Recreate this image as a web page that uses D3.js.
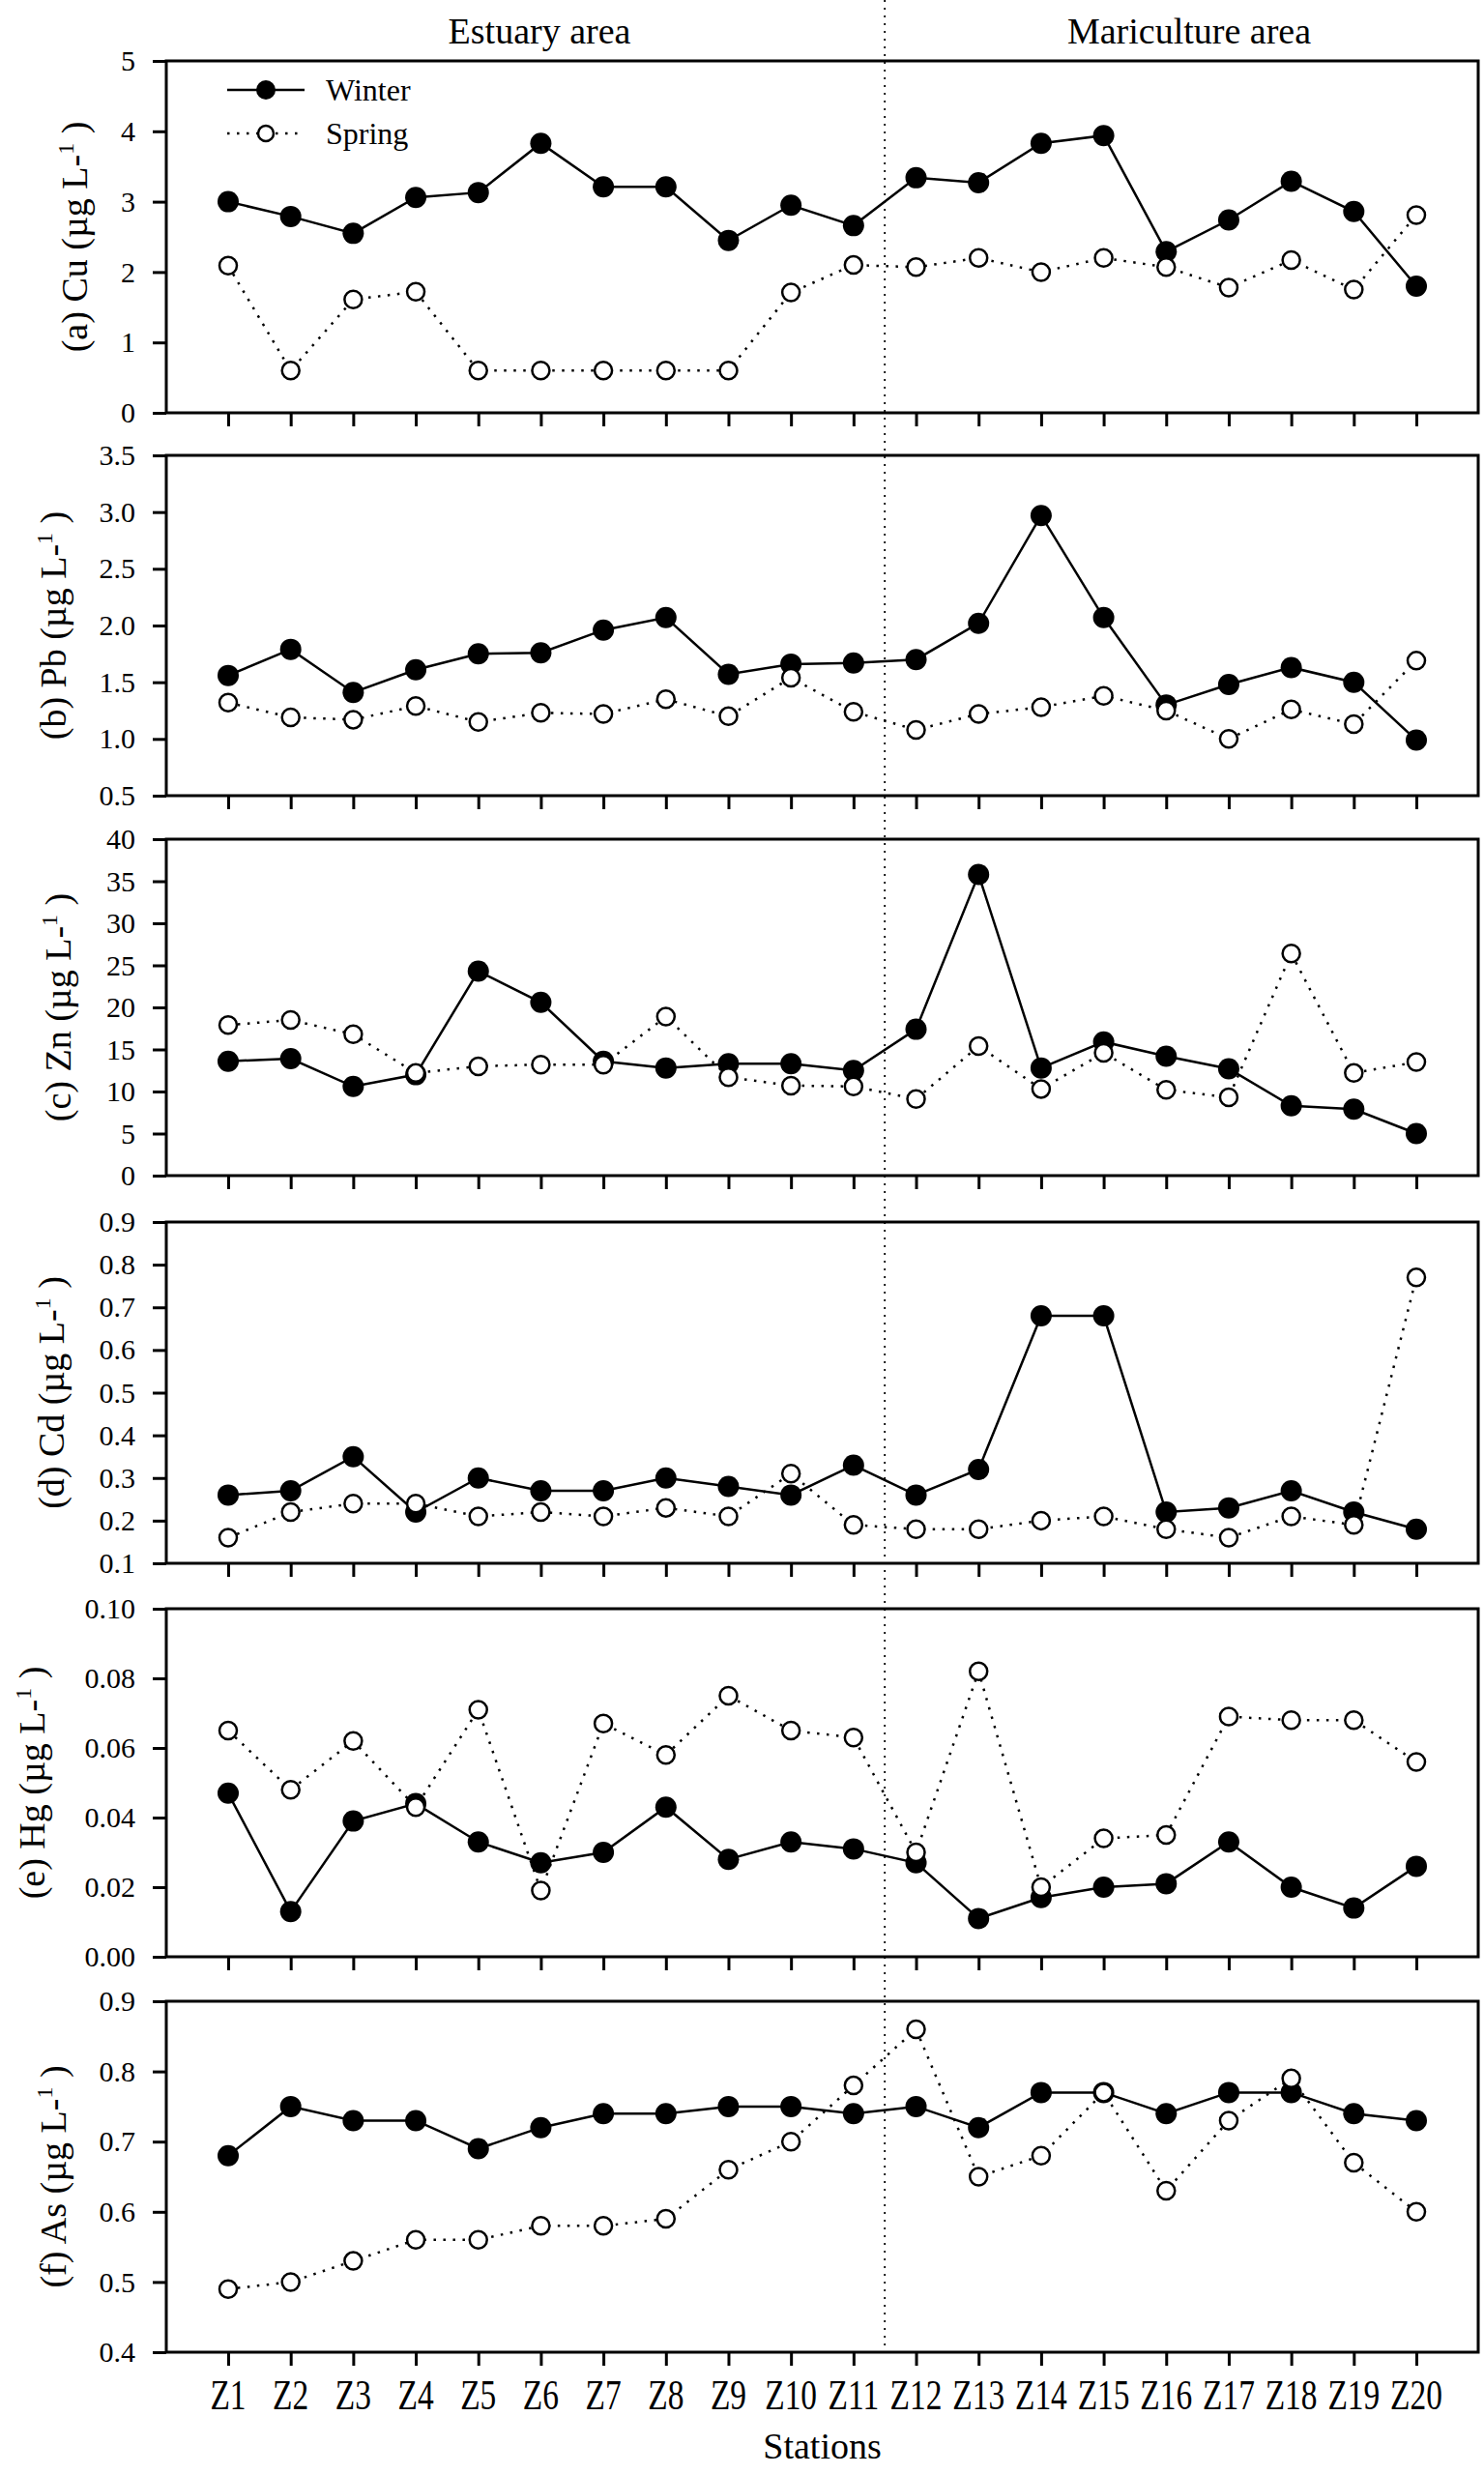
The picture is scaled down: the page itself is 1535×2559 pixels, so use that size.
<!DOCTYPE html>
<html>
<head>
<meta charset="utf-8">
<script src="https://cdn.jsdelivr.net/npm/d3@7"></script>
<style>
  body { margin: 0; background: #fff; }
  svg { display: block; }
  text { font-family: "Liberation Serif", "Times New Roman", serif; fill: #000; }
</style>
</head>
<body>
<div id="chart"></div>
<script>
(function() {
  'use strict';

  // ---- data ----
  var stations = ["Z1","Z2","Z3","Z4","Z5","Z6","Z7","Z8","Z9","Z10",
                  "Z11","Z12","Z13","Z14","Z15","Z16","Z17","Z18","Z19","Z20"];

  var cuWinter = [3.00, 2.79, 2.55, 3.06, 3.13, 3.83, 3.21, 3.21, 2.45, 2.95, 2.66, 3.34, 3.27, 3.83, 3.94, 2.29, 2.74, 3.29, 2.86, 1.80];
  var cuSpring = [2.09, 0.60, 1.61, 1.72, 0.60, 0.60, 0.60, 0.60, 0.60, 1.71, 2.10, 2.07, 2.20, 2.00, 2.20, 2.07, 1.78, 2.17, 1.75, 2.81];

  var pbWinter = [1.56, 1.79, 1.41, 1.61, 1.75, 1.76, 1.96, 2.07, 1.57, 1.66, 1.67, 1.70, 2.02, 2.97, 2.07, 1.30, 1.48, 1.63, 1.50, 0.99];
  var pbSpring = [1.32, 1.19, 1.17, 1.29, 1.15, 1.23, 1.22, 1.35, 1.20, 1.54, 1.24, 1.08, 1.22, 1.28, 1.38, 1.25, 1.00, 1.26, 1.13, 1.69];

  var znWinter = [13.6, 13.9, 10.6, 12.0, 24.3, 20.6, 13.6, 12.8, 13.3, 13.3, 12.5, 17.4, 35.8, 12.8, 15.9, 14.2, 12.7, 8.3, 7.9, 5.0];
  var znSpring = [17.9, 18.5, 16.8, 12.2, 13.0, 13.2, 13.2, 18.9, 11.7, 10.7, 10.6, 9.1, 15.4, 10.3, 14.6, 10.2, 9.3, 26.4, 12.2, 13.5];

  var cdWinter = [0.26, 0.27, 0.35, 0.22, 0.30, 0.27, 0.27, 0.30, 0.28, 0.26, 0.33, 0.26, 0.32, 0.68, 0.68, 0.22, 0.23, 0.27, 0.22, 0.18];
  var cdSpring = [0.16, 0.22, 0.24, 0.24, 0.21, 0.22, 0.21, 0.23, 0.21, 0.31, 0.19, 0.18, 0.18, 0.20, 0.21, 0.18, 0.16, 0.21, 0.19, 0.77];

  var hgWinter = [0.047, 0.013, 0.039, 0.044, 0.033, 0.027, 0.030, 0.043, 0.028, 0.033, 0.031, 0.027, 0.011, 0.017, 0.020, 0.021, 0.033, 0.020, 0.014, 0.026];
  var hgSpring = [0.065, 0.048, 0.062, 0.043, 0.071, 0.019, 0.067, 0.058, 0.075, 0.065, 0.063, 0.030, 0.082, 0.020, 0.034, 0.035, 0.069, 0.068, 0.068, 0.056];

  var asWinter = [0.68, 0.75, 0.73, 0.73, 0.69, 0.72, 0.74, 0.74, 0.75, 0.75, 0.74, 0.75, 0.72, 0.77, 0.77, 0.74, 0.77, 0.77, 0.74, 0.73];
  var asSpring = [0.49, 0.50, 0.53, 0.56, 0.56, 0.58, 0.58, 0.59, 0.66, 0.70, 0.78, 0.86, 0.65, 0.68, 0.77, 0.63, 0.73, 0.79, 0.67, 0.60];

  var panelLabels = ["(a) Cu", "(b) Pb", "(c) Zn", "(d) Cd", "(e) Hg", "(f) As"];
  var yDomains = [[0, 5], [0.5, 3.5], [0, 40], [0.1, 0.9], [0, 0.10], [0.4, 0.9]];
  var yTicks = [
    [0, 1, 2, 3, 4, 5],
    [0.5, 1.0, 1.5, 2.0, 2.5, 3.0, 3.5],
    [0, 5, 10, 15, 20, 25, 30, 35, 40],
    [0.1, 0.2, 0.3, 0.4, 0.5, 0.6, 0.7, 0.8, 0.9],
    [0, 0.02, 0.04, 0.06, 0.08, 0.10],
    [0.4, 0.5, 0.6, 0.7, 0.8, 0.9]
  ];
  var yFormats = ["d", ".1f", "d", ".1f", ".2f", ".1f"];
  var winterSeries = [cuWinter, pbWinter, znWinter, cdWinter, hgWinter, asWinter];
  var springSeries = [cuSpring, pbSpring, znSpring, cdSpring, hgSpring, asSpring];
  var areaNames = ["Estuary area", "Mariculture area"];

  // ---- layout ----
  var serif = '"Liberation Serif", "Times New Roman", serif';
  var width = 1535, height = 2559;
  var plotLeft = 172, plotRight = 1529;
  var panelTops = [63, 471, 868, 1264, 1664, 2070];
  var panelBottoms = [427, 823, 1216, 1617, 2024, 2433];
  var labelBaseX = [90, 68, 73, 66, 46, 68];

  var svg = d3.select("#chart").append("svg")
    .attr("width", width)
    .attr("height", height)
    .attr("font-family", serif);

  svg.append("rect")
    .attr("width", width)
    .attr("height", height)
    .attr("fill", "#fff");

  var x = d3.scalePoint()
    .domain(stations)
    .range([236, 1465]);

  // divider between estuary and mariculture stations
  var divX = (x("Z11") + x("Z12")) / 2;

  var line = function(yScale) {
    return d3.line()
      .x(function(d, i) { return x(stations[i]); })
      .y(function(d) { return yScale(d); });
  };

  panelLabels.forEach(function(label, p) {
    var top = panelTops[p], bottom = panelBottoms[p];
    var y = d3.scaleLinear().domain(yDomains[p]).range([bottom, top]);
    var g = svg.append("g").attr("class", "panel");

    // frame
    g.append("rect")
      .attr("x", plotLeft)
      .attr("y", top)
      .attr("width", plotRight - plotLeft)
      .attr("height", bottom - top)
      .attr("fill", "none")
      .attr("stroke", "#000")
      .attr("stroke-width", 3);

    var yAxis = g.append("g")
      .attr("transform", "translate(" + plotLeft + ",0)")
      .call(d3.axisLeft(y)
        .tickValues(yTicks[p])
        .tickFormat(d3.format(yFormats[p]))
        .tickSize(14)
        .tickSizeOuter(0)
        .tickPadding(18));
    yAxis.attr("font-family", serif).attr("font-size", 30);
    yAxis.select(".domain").remove();
    yAxis.selectAll(".tick line").attr("stroke-width", 3);
    yAxis.selectAll(".tick text")
      .style("font-family", serif)
      .style("font-size", "30px");

    var xAxis = g.append("g")
      .attr("transform", "translate(0," + bottom + ")")
      .call(d3.axisBottom(x)
        .tickSize(14)
        .tickSizeOuter(0)
        .tickFormat(""));
    xAxis.select(".domain").remove();
    xAxis.selectAll(".tick line").attr("stroke-width", 3);

    // y label
    var lab = g.append("text")
      .attr("transform", "translate(" + labelBaseX[p] + "," + ((top + bottom) / 2) + ") rotate(-90)")
      .attr("text-anchor", "middle")
      .style("font-size", "38px");
    lab.append("tspan").text(label + " (\u00b5g L-");
    lab.append("tspan").attr("dy", "-14").style("font-size", "24px").text("1");
    lab.append("tspan").attr("dy", "14").text(" )");

    // winter
    g.append("path")
      .datum(winterSeries[p])
      .attr("d", line(y))
      .attr("fill", "none")
      .attr("stroke", "#000")
      .attr("stroke-width", 2.5);
    g.selectAll(".winter")
      .data(winterSeries[p])
      .enter().append("circle")
      .attr("class", "winter")
      .attr("cx", function(d, i) { return x(stations[i]); })
      .attr("cy", function(d) { return y(d); })
      .attr("r", 11)
      .attr("fill", "#000");

    // spring
    g.append("path")
      .datum(springSeries[p])
      .attr("d", line(y))
      .attr("fill", "none")
      .attr("stroke", "#000")
      .attr("stroke-width", 2.5)
      .attr("stroke-dasharray", "2.5,7.5");
    g.selectAll(".spring")
      .data(springSeries[p])
      .enter().append("circle")
      .attr("class", "spring")
      .attr("cx", function(d, i) { return x(stations[i]); })
      .attr("cy", function(d) { return y(d); })
      .attr("r", 9)
      .attr("fill", "#fff")
      .attr("stroke", "#000")
      .attr("stroke-width", 2.5);
  });

  // vertical divider
  svg.append("line")
    .attr("x1", divX).attr("x2", divX)
    .attr("y1", 0).attr("y2", 2440)
    .attr("stroke", "#000")
    .attr("stroke-width", 1.8)
    .attr("stroke-dasharray", "2,6");

  // area titles
  svg.selectAll(".area")
    .data(areaNames)
    .enter().append("text")
    .attr("class", "area")
    .attr("x", function(d, i) { return i === 0 ? 558 : 1230; })
    .attr("y", 45)
    .attr("text-anchor", "middle")
    .style("font-size", "38px")
    .text(function(d) { return d; });

  // station labels (tall, narrow type as in the original)
  var lastBottom = panelBottoms[panelBottoms.length - 1];
  svg.selectAll(".station")
    .data(stations)
    .enter().append("text")
    .attr("class", "station")
    .attr("transform", function(d) {
      return "translate(" + x(d) + "," + (lastBottom + 59) + ") scale(0.76,1)";
    })
    .attr("text-anchor", "middle")
    .style("font-size", "44px")
    .text(function(d) { return d; });

  svg.append("text")
    .attr("x", (x.range()[0] + x.range()[1]) / 2)
    .attr("y", 2543)
    .attr("text-anchor", "middle")
    .style("font-size", "38px")
    .text("Stations");

  // legend
  var legend = svg.append("g").attr("class", "legend");
  var legendRows = [
    { name: "Winter", y: 93, dash: null, fill: "#000", r: 10 },
    { name: "Spring", y: 138, dash: "2.5,7.5", fill: "#fff", r: 8 }
  ];
  legendRows.forEach(function(row) {
    legend.append("line")
      .attr("x1", 235).attr("x2", 315)
      .attr("y1", row.y).attr("y2", row.y)
      .attr("stroke", "#000")
      .attr("stroke-width", 2.5)
      .attr("stroke-dasharray", row.dash);
    legend.append("circle")
      .attr("cx", 275).attr("cy", row.y)
      .attr("r", row.r)
      .attr("fill", row.fill)
      .attr("stroke", "#000")
      .attr("stroke-width", row.fill === "#000" ? 0 : 2.5);
    legend.append("text")
      .attr("x", 337)
      .attr("y", row.y + 11)
      .style("font-size", "32px")
      .text(row.name);
  });
}());
</script>
</body>
</html>
